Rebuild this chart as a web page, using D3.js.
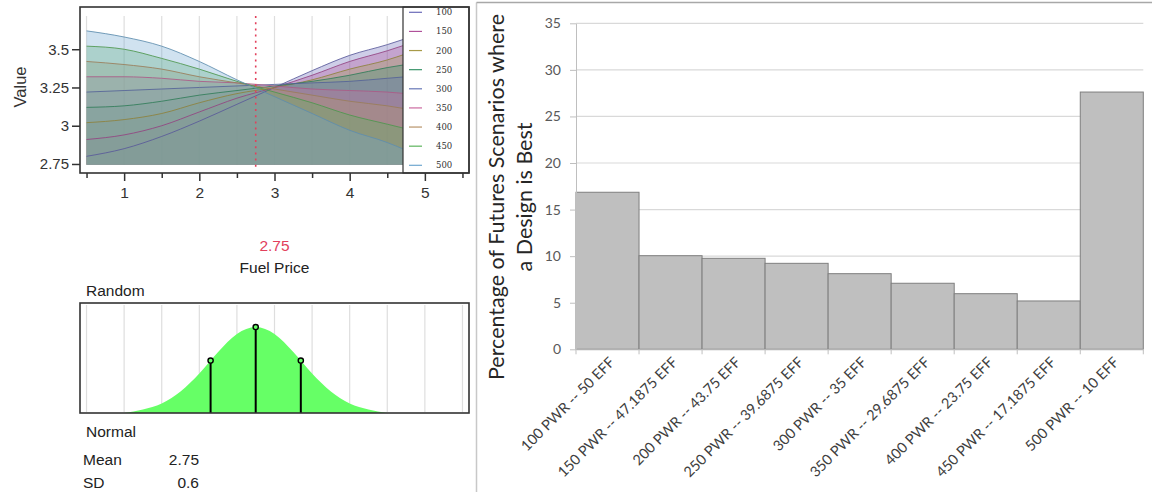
<!DOCTYPE html>
<html>
<head>
<meta charset="utf-8">
<script src="https://cdn.jsdelivr.net/npm/d3@7"></script>
<style>
body { margin: 0; background: #fff; }
</style>
</head>
<body>
<div id="chart"></div>
<script>
// profiler curves: value vs fuel price, one series per design size
var fuelPrice = [0.5, 1, 1.5, 2, 2.5, 3, 3.5, 4, 4.5, 4.75];
var designs = ['100', '150', '200', '250', '300', '350', '400', '450', '500'];
var v100 = [2.80, 2.85, 2.93, 3.03, 3.14, 3.25, 3.36, 3.46, 3.53, 3.57];
var v150 = [2.91, 2.94, 3.00, 3.09, 3.18, 3.25, 3.33, 3.42, 3.49, 3.53];
var v200 = [3.02, 3.04, 3.08, 3.15, 3.21, 3.25, 3.30, 3.37, 3.43, 3.47];
var v250 = [3.12, 3.13, 3.16, 3.20, 3.23, 3.26, 3.29, 3.33, 3.38, 3.40];
var v300 = [3.22, 3.23, 3.24, 3.25, 3.26, 3.27, 3.28, 3.29, 3.31, 3.32];
var v350 = [3.32, 3.32, 3.31, 3.29, 3.28, 3.26, 3.24, 3.23, 3.22, 3.21];
var v400 = [3.42, 3.40, 3.37, 3.32, 3.28, 3.24, 3.20, 3.16, 3.13, 3.11];
var v450 = [3.52, 3.50, 3.44, 3.37, 3.29, 3.22, 3.15, 3.07, 3.01, 2.98];
var v500 = [3.62, 3.58, 3.52, 3.42, 3.30, 3.19, 3.08, 2.97, 2.89, 2.84];
var valueFloor = 2.745;
var valueTicks = [2.75, 3, 3.25, 3.5];
var priceTicks = [1, 2, 3, 4, 5];
var priceMinorTicks = [0.5, 1.5, 2.5, 3.5, 4.5, 5.5];
var currentPrice = 2.75;

// normal distribution for fuel price (mean 2.75, sd 0.6), heights
var densityX = [1, 1.25, 1.5, 1.75, 2, 2.25, 2.5, 2.75, 3, 3.25, 3.5, 3.75, 4, 4.25, 4.5];
var densityY = [0, 0.04, 0.11, 0.25, 0.46, 0.71, 0.92, 1, 0.92, 0.71, 0.46, 0.25, 0.11, 0.04, 0];
var stemX = [2.15, 2.75, 3.35];
var stemY = [0.61, 1, 0.61];
var distName = 'Normal';
var distMean = '2.75';
var distSD = '0.6';

// bar chart
var designLabels = ['100 PWR -- 50 EFF', '150 PWR -- 47.1875 EFF', '200 PWR -- 43.75 EFF',
    '250 PWR -- 39.6875 EFF', '300 PWR -- 35 EFF', '350 PWR -- 29.6875 EFF',
    '400 PWR -- 23.75 EFF', '450 PWR -- 17.1875 EFF', '500 PWR -- 10 EFF'];
var bestPct = [16.86, 10.05, 9.77, 9.23, 8.12, 7.09, 5.97, 5.19, 27.62];
var pctTicks = [0, 5, 10, 15, 20, 25, 30, 35];

var lineColors = ['#6a6ab8', '#b0509a', '#a89a48', '#3a946a', '#6676b6',
    '#cc6aa0', '#b8946a', '#5cb45c', '#70a8d0'];

var width = 1152;
var height = 492;

const svg = d3.select('#chart')
    .append('svg')
    .attr('width', width)
    .attr('height', height)
    .attr('viewBox', [0, 0, width, height])
    .style('display', 'block');

var seriesValues = [v100, v150, v200, v250, v300, v350, v400, v450, v500];
var color = d3.scaleOrdinal().domain(designs).range(lineColors);

// ---------- left top: profiler ----------
var x = d3.scaleLinear().domain([0.413, 5.587]).range([80, 469]);
var y = d3.scaleLinear().domain([2.691, 3.776]).range([173, 7]);
var legendLeft = 403;

svg.append('defs').append('clipPath')
    .attr('id', 'plotClip')
    .append('rect')
    .attr('x', 80).attr('y', 7)
    .attr('width', legendLeft - 80).attr('height', 166);

svg.append('g')
    .selectAll('line')
    .data(d3.merge([priceTicks, priceMinorTicks]))
    .join('line')
    .attr('x1', d => x(d)).attr('x2', d => x(d))
    .attr('y1', 16).attr('y2', y(valueFloor))
    .attr('stroke', '#dedede')
    .attr('stroke-width', 1.2);

var area = d3.area()
    .x((d, i) => x(fuelPrice[i]))
    .y0(y(valueFloor))
    .y1(d => y(d))
    .curve(d3.curveMonotoneX);

var line = d3.line()
    .x((d, i) => x(fuelPrice[i]))
    .y(d => y(d))
    .curve(d3.curveMonotoneX);

var plot = svg.append('g').attr('clip-path', 'url(#plotClip)');

plot.selectAll('path.area')
    .data(seriesValues)
    .join('path')
    .attr('class', 'area')
    .attr('fill', (d, i) => color(designs[i]))
    .attr('fill-opacity', 0.33)
    .attr('d', area);

plot.selectAll('path.curve')
    .data(seriesValues)
    .join('path')
    .attr('class', 'curve')
    .attr('fill', 'none')
    .attr('stroke', (d, i) => d3.color(color(designs[i])).darker(0.5))
    .attr('stroke-opacity', 0.85)
    .attr('stroke-width', 1)
    .attr('d', line);

svg.append('line')
    .attr('x1', x(currentPrice)).attr('x2', x(currentPrice))
    .attr('y1', 16).attr('y2', 168)
    .attr('stroke', '#e2405c')
    .attr('stroke-width', 1.6)
    .attr('stroke-dasharray', '2,4.2');

// legend
var legendY = d3.scalePoint().domain(designs).range([12.3, 165.3]);
svg.append('rect')
    .attr('x', legendLeft).attr('y', 7)
    .attr('width', 469 - legendLeft).attr('height', 166)
    .attr('fill', '#fff')
    .attr('stroke', '#333')
    .attr('stroke-width', 1.2);

var legend = svg.append('g')
    .selectAll('g')
    .data(designs)
    .join('g')
    .attr('transform', d => `translate(0,${legendY(d)})`);
legend.append('line')
    .attr('x1', 409).attr('x2', 422)
    .attr('stroke', d => color(d))
    .attr('stroke-width', 1.2);
legend.append('text')
    .text(d => d)
    .attr('x', 436)
    .attr('y', 3)
    .attr('font-family', 'DejaVu Serif')
    .attr('font-size', 8.5)
    .attr('fill', '#333');

svg.append('rect')
    .attr('x', 80).attr('y', 7)
    .attr('width', 389).attr('height', 166)
    .attr('fill', 'none')
    .attr('stroke', '#333')
    .attr('stroke-width', 1.6);

var leftFont = 'Liberation Sans, Arial, sans-serif';

var yAxis = g => g
    .attr('transform', 'translate(80,0)')
    .call(d3.axisLeft(y).tickValues(valueTicks).tickSize(8).tickPadding(3).tickFormat(d => String(d)))
    .call(g => g.select('.domain').remove())
    .attr('font-family', leftFont)
    .attr('font-size', 15)
    .style('color', '#333')
    .call(g => g.selectAll('line').attr('stroke-width', 1.5));

var xAxis = g => g
    .attr('transform', 'translate(0,173)')
    .call(d3.axisBottom(x).tickValues(priceTicks).tickSize(8).tickPadding(6).tickFormat(d => String(d)))
    .call(g => g.select('.domain').remove())
    .attr('font-family', leftFont)
    .attr('font-size', 15.5)
    .style('color', '#333')
    .call(g => g.selectAll('line').attr('stroke-width', 1.5));

var xMinor = g => g
    .attr('transform', 'translate(0,173)')
    .call(d3.axisBottom(x).tickValues(priceMinorTicks).tickSize(5).tickFormat(''))
    .call(g => g.select('.domain').remove())
    .style('color', '#333')
    .call(g => g.selectAll('line').attr('stroke-width', 1.5));

svg.append('g').call(yAxis);
svg.append('g').call(xAxis);
svg.append('g').call(xMinor);

svg.append('text')
    .text('Value')
    .attr('transform', 'translate(26,87) rotate(-90)')
    .attr('text-anchor', 'middle')
    .attr('font-family', leftFont)
    .attr('font-size', 16.5)
    .attr('fill', '#333');

svg.append('text')
    .text(currentPrice)
    .attr('x', 274.5).attr('y', 251)
    .attr('text-anchor', 'middle')
    .attr('font-family', leftFont)
    .attr('font-size', 15.5)
    .attr('fill', '#e2405c');

svg.append('text')
    .text('Fuel Price')
    .attr('x', 274.5).attr('y', 273)
    .attr('text-anchor', 'middle')
    .attr('font-family', leftFont)
    .attr('font-size', 15.5)
    .attr('fill', '#222');

svg.append('text')
    .text('Random')
    .attr('x', 86).attr('y', 296)
    .attr('font-family', leftFont)
    .attr('font-size', 15.5)
    .attr('fill', '#222');

// ---------- left bottom: distribution ----------
var yD = d3.scaleLinear().domain([0, 1.28]).range([413, 303]);

svg.append('g')
    .selectAll('line')
    .data(d3.merge([priceTicks, priceMinorTicks]))
    .join('line')
    .attr('x1', d => x(d)).attr('x2', d => x(d))
    .attr('y1', 305).attr('y2', 412)
    .attr('stroke', '#dedede')
    .attr('stroke-width', 1.2);

var densityArea = d3.area()
    .x((d, i) => x(densityX[i]))
    .y0(yD(0))
    .y1(d => yD(d))
    .curve(d3.curveMonotoneX);

svg.append('path')
    .datum(densityY)
    .attr('fill', '#66ff66')
    .attr('d', densityArea);

var stems = svg.append('g')
    .selectAll('g')
    .data(stemX)
    .join('g');
stems.append('line')
    .attr('x1', d => x(d)).attr('x2', d => x(d))
    .attr('y1', yD(0))
    .attr('y2', (d, i) => yD(stemY[i]))
    .attr('stroke', '#000')
    .attr('stroke-width', 2);
stems.append('circle')
    .attr('cx', d => x(d))
    .attr('cy', (d, i) => yD(stemY[i]))
    .attr('r', 2.6)
    .attr('fill', '#66ff66')
    .attr('stroke', '#000')
    .attr('stroke-width', 1.4);

svg.append('rect')
    .attr('x', 80).attr('y', 303)
    .attr('width', 389).attr('height', 110)
    .attr('fill', 'none')
    .attr('stroke', '#333')
    .attr('stroke-width', 1.6);

svg.append('text')
    .text(distName)
    .attr('x', 86).attr('y', 437)
    .attr('font-family', leftFont)
    .attr('font-size', 15.5)
    .attr('fill', '#222');

var params = svg.append('g')
    .attr('font-family', leftFont)
    .attr('font-size', 15.5)
    .attr('fill', '#222');
params.append('text').text('Mean').attr('x', 83).attr('y', 465);
params.append('text').text(distMean).attr('x', 199).attr('y', 465).attr('text-anchor', 'end');
params.append('text').text('SD').attr('x', 83).attr('y', 488);
params.append('text').text(distSD).attr('x', 199).attr('y', 488).attr('text-anchor', 'end');

// ---------- right: bar chart ----------
var barFont = 'Lato, Open Sans, sans-serif';
var xB = d3.scaleBand().domain(designLabels).range([576, 1143.3]).padding(0);
var yB = d3.scaleLinear().domain([0, 35]).range([349.3, 23.3]);

svg.append('line')
    .attr('x1', 476.5).attr('x2', 476.5)
    .attr('y1', 2.5).attr('y2', height)
    .attr('stroke', '#c8c8c8')
    .attr('stroke-width', 1.5);
svg.append('line')
    .attr('x1', 476.5).attr('x2', width)
    .attr('y1', 2.5).attr('y2', 2.5)
    .attr('stroke', '#a8a8a8')
    .attr('stroke-width', 1.5);

svg.append('g')
    .selectAll('line')
    .data(pctTicks.slice(1))
    .join('line')
    .attr('x1', 576).attr('x2', 1143.3)
    .attr('y1', d => yB(d)).attr('y2', d => yB(d))
    .attr('stroke', '#d9d9d9')
    .attr('stroke-width', 1.2);

svg.append('g')
    .selectAll('rect')
    .data(bestPct)
    .join('rect')
    .attr('x', (d, i) => xB(designLabels[i]))
    .attr('y', d => yB(d))
    .attr('width', xB.bandwidth())
    .attr('height', d => yB(0) - yB(d))
    .attr('fill', '#bfbfbf')
    .attr('stroke', '#7f7f7f')
    .attr('stroke-width', 1);

var yBAxis = g => g
    .attr('transform', 'translate(576,0)')
    .call(d3.axisLeft(yB).tickValues(pctTicks).tickSize(6).tickPadding(9).tickSizeOuter(0))
    .attr('font-family', barFont)
    .attr('font-size', 14)
    .style('color', '#bfbfbf')
    .call(g => g.selectAll('text').attr('fill', '#595959'));

var xBAxis = g => g
    .attr('transform', `translate(0,${yB(0)})`)
    .call(d3.axisBottom(xB).tickSize(0).tickSizeOuter(0).tickFormat(''))
    .style('color', '#bfbfbf')
    .call(g => g.selectAll('.tick').remove());

svg.append('g').call(yBAxis);
svg.append('g').call(xBAxis);

// category boundary ticks
svg.append('g')
    .selectAll('line')
    .data(designLabels.concat(['end']))
    .join('line')
    .attr('x1', d => d === 'end' ? xB.range()[1] : xB(d))
    .attr('x2', d => d === 'end' ? xB.range()[1] : xB(d))
    .attr('y1', yB(0)).attr('y2', yB(0) + 5)
    .attr('stroke', '#bfbfbf');

svg.append('g')
    .selectAll('text')
    .data(designLabels)
    .join('text')
    .text(d => d)
    .attr('transform', d => `translate(${xB(d) + xB.bandwidth() / 2 + 8},${yB(0) + 14}) rotate(-45)`)
    .attr('text-anchor', 'end')
    .attr('font-family', barFont)
    .attr('font-size', 14.5)
    .attr('fill', '#404040');

var title = svg.append('g')
    .attr('transform', 'translate(510,197) rotate(-90)')
    .attr('font-family', barFont)
    .attr('font-size', 21.5)
    .attr('fill', '#262626')
    .attr('text-anchor', 'middle');
title.append('text').text('Percentage of Futures Scenarios where').attr('y', -6);
title.append('text').text('a Design is Best').attr('y', 22);
</script>
</body>
</html>
